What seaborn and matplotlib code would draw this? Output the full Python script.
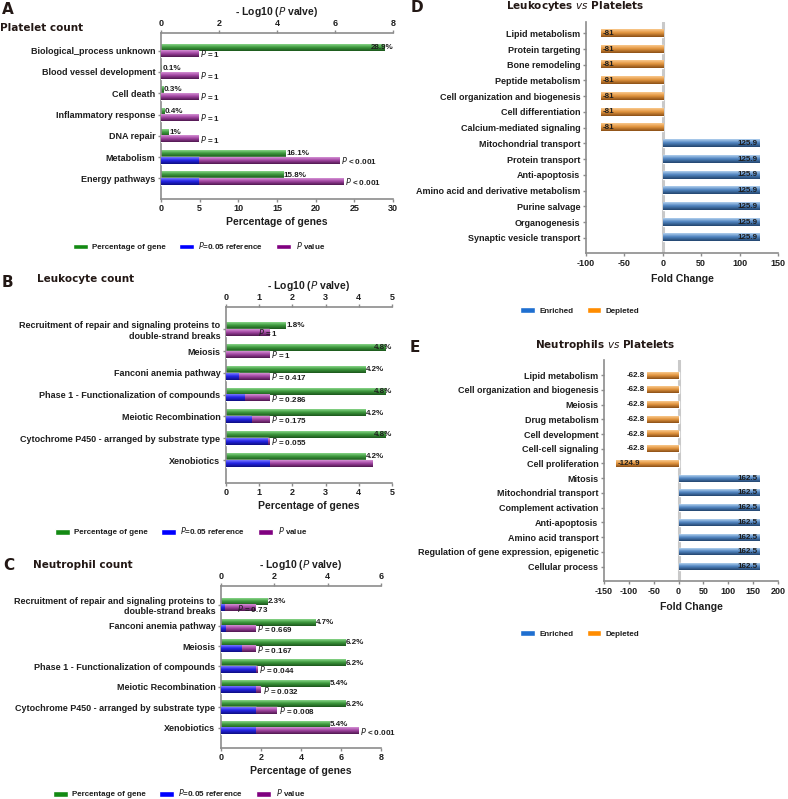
import numpy as np
import pandas as pd
import matplotlib
matplotlib.use("Agg")
import matplotlib.pyplot as plt
import seaborn as sns
from matplotlib.patches import Patch
from matplotlib.colors import LinearSegmentedColormap

# ---------------- data ----------------
a_cats = ["Biological_process unknown", "Blood vessel development", "Cell death",
          "Inflammatory response", "DNA repair", "Metabolism", "Energy pathways"]
a_pct = [28.9, 0.1, 0.3, 0.4, 1, 16.1, 15.8]
a_neglogp = [0, 0, 0, 0, 0, 6.15, 6.3]
a_plabels = ["= 1", "= 1", "= 1", "= 1", "= 1", "< 0.001", "< 0.001"]

b_cats = ["Recruitment of repair and signaling proteins to\ndouble-strand breaks", "Meiosis",
          "Fanconi anemia pathway", "Phase 1 - Functionalization of compounds",
          "Meiotic Recombination", "Cytochrome P450 - arranged by substrate type", "Xenobiotics"]
b_pct = [1.8, 4.8, 4.2, 4.8, 4.2, 4.8, 4.2]
b_neglogp = [0, 0, 0.38, 0.544, 0.757, 1.26, 4.4]
b_plabels = ["= 1", "= 1", "= 0.417", "= 0.286", "= 0.175", "= 0.055", ""]

c_cats = ["Recruitment of repair and signaling proteins to\ndouble-strand breaks", "Fanconi anemia pathway",
          "Meiosis", "Phase 1 - Functionalization of compounds", "Meiotic Recombination",
          "Cytochrome P450 - arranged by substrate type", "Xenobiotics"]
c_pct = [2.3, 4.7, 6.2, 6.2, 5.4, 6.2, 5.4]
c_neglogp = [0.137, 0.175, 0.777, 1.357, 1.495, 2.097, 5.15]
c_plabels = ["= 0.73", "= 0.669", "= 0.167", "= 0.044", "= 0.032", "= 0.008", "< 0.001"]

d_cats = ["Lipid metabolism", "Protein targeting", "Bone remodeling", "Peptide metabolism",
          "Cell organization and biogenesis", "Cell differentiation", "Calcium-mediated signaling",
          "Mitochondrial transport", "Protein transport", "Anti-apoptosis",
          "Amino acid and derivative metabolism", "Purine salvage", "Organogenesis",
          "Synaptic vesicle transport"]
d_fold = [-81, -81, -81, -81, -81, -81, -81, 125.9, 125.9, 125.9, 125.9, 125.9, 125.9, 125.9]

e_cats = ["Lipid metabolism", "Cell organization and biogenesis", "Meiosis", "Drug metabolism",
          "Cell development", "Cell-cell signaling", "Cell proliferation", "Mitosis",
          "Mitochondrial transport", "Complement activation", "Anti-apoptosis",
          "Amino acid transport", "Regulation of gene expression, epigenetic", "Cellular process"]
e_fold = [-62.8, -62.8, -62.8, -62.8, -62.8, -62.8, -124.9, 162.5, 162.5, 162.5, 162.5, 162.5, 162.5, 162.5]

P_REF = -np.log10(0.05)

# ---------------- style ----------------
sns.set_style("ticks")
plt.rcParams["font.family"] = ["Liberation Sans", "DejaVu Sans"]
plt.rcParams["font.weight"] = "bold"
plt.rcParams["axes.labelweight"] = "bold"
plt.rcParams["axes.unicode_minus"] = False
plt.rcParams["mathtext.fontset"] = "custom"
plt.rcParams["mathtext.rm"] = "DejaVu Sans:weight=normal"
plt.rcParams["mathtext.it"] = "DejaVu Sans:slant=italic:weight=normal"
plt.rcParams["mathtext.bf"] = "DejaVu Sans:weight=bold"

GREY = "#8c8c8c"
INK = "#1e1e1e"
SHADES = {
    "green": ["#8ad68a", "#3e9a3e", "#1b561b"],
    "blue": ["#7a7aff", "#2424e6", "#0e0e80"],
    "purple": ["#d592d5", "#a346a3", "#4e164e"],
    "orange": ["#f9c98e", "#e39640", "#8a4f16"],
    "steel": ["#b3d1ee", "#5286c2", "#22446d"],
}

fig = plt.figure(figsize=(7.88, 7.99), dpi=100)
FW, FH = 788.0, 799.0


def rect(x0, y0, x1, y1):
    return [x0 / FW, 1 - y1 / FH, (x1 - x0) / FW, (y1 - y0) / FH]


def shade(ax, patches, stops):
    cmap = LinearSegmentedColormap.from_list("s", [(0, stops[0]), (0.45, stops[1]), (1, stops[2])])
    grad = np.linspace(0, 1, 64).reshape(-1, 1)
    for p in patches:
        w, h = p.get_width(), p.get_height()
        if not np.isfinite(w) or w == 0:
            continue
        x0, y0 = p.get_x(), p.get_y()
        xl, xr = min(x0, x0 + w), max(x0, x0 + w)
        yt, yb = min(y0, y0 + h), max(y0, y0 + h)
        ax.imshow(grad, cmap=cmap, extent=(xl, xr, yb, yt), origin="upper",
                  aspect="auto", interpolation="bilinear", zorder=p.get_zorder() + 0.1)


def style_spines(ax, visible):
    for s in ["left", "right", "top", "bottom"]:
        ax.spines[s].set_visible(s in visible)
        ax.spines[s].set_color(GREY)
        ax.spines[s].set_linewidth(1.2)


def left_panel(box, cats, pct, neglog, plabels, pct_lim, pct_ticks, p_lim, p_ticks, ylim, first_shift):
    ax = fig.add_axes(rect(*box))
    ax2 = ax.twiny()
    tot = np.maximum(np.array(neglog, float), P_REF)
    ref = np.minimum(np.array(neglog, float), P_REF)
    df_g = pd.DataFrame({"cat": cats, "val": pct, "series": "gene"})
    df_t = pd.DataFrame({"cat": cats, "val": tot, "series": "p"})
    df_r = pd.DataFrame({"cat": cats, "val": ref, "series": "p"})
    kw = dict(x="val", y="cat", hue="series", hue_order=["gene", "p"], order=cats, orient="h",
              dodge=True, width=0.62, errorbar=None, legend=False, saturation=1)
    sns.barplot(data=df_g, palette={"gene": "#3e9a3e", "p": "#a346a3"}, ax=ax, **kw)
    sns.barplot(data=df_t, palette={"gene": "#3e9a3e", "p": "#a346a3"}, ax=ax2, **kw)
    n_tot = len(ax2.patches)
    sns.barplot(data=df_r, palette={"gene": "#3e9a3e", "p": "#2424e6"}, ax=ax2, **kw)
    green_patches = list(ax.patches)
    purple_patches = list(ax2.patches[:n_tot])
    blue_patches = list(ax2.patches[n_tot:])
    shade(ax, green_patches, SHADES["green"])
    shade(ax2, purple_patches, SHADES["purple"])
    shade(ax2, blue_patches, SHADES["blue"])

    for p in green_patches:
        if not np.isfinite(p.get_width()):
            continue
        yc = p.get_y() + p.get_height() / 2
        i = int(round(yc))
        v = pct[i]
        txt = f"{v:g}%"
        if v / pct_lim > 0.9:
            ax.annotate(txt, xy=(pct_lim, yc), xytext=(0.5, 0), textcoords="offset points",
                        ha="right", va="center", fontsize=5.8, color=INK, zorder=6)
        else:
            ax.annotate(txt, xy=(v, yc), xytext=(0.5, 0), textcoords="offset points",
                        ha="left", va="center", fontsize=5.8, color=INK, zorder=6)
    for p in purple_patches:
        if not np.isfinite(p.get_width()):
            continue
        yc = p.get_y() + p.get_height() / 2
        i = int(round(yc))
        if not plabels[i]:
            continue
        dx = 1.2 + (first_shift if i == 0 else 0)
        ax2.annotate(r"$\mathit{P}$ " + plabels[i], xy=(p.get_x() + p.get_width(), yc),
                     xytext=(dx, 0), textcoords="offset points", ha="left", va="center",
                     fontsize=5.8, color=INK, zorder=6)

    ax.set_xlim(0, pct_lim)
    ax.set_xticks(pct_ticks)
    ax2.set_xlim(0, p_lim)
    ax2.set_xticks(p_ticks)
    ax.set_ylim(*ylim)
    ax.set_yticks(range(len(cats)))
    ax.set_yticklabels(cats)
    ax.set_ylabel("")
    ax2.set_ylabel("")
    ax.set_xlabel("Percentage of genes", fontsize=7.5, labelpad=3, color=INK)
    ax2.set_xlabel(r"- Log10 ($\mathit{P}$ valve)", fontsize=7.5, labelpad=2.5, color=INK)
    style_spines(ax, ["left", "bottom"])
    style_spines(ax2, ["top"])
    ax.tick_params(axis="x", direction="out", length=2.5, width=1, color=GREY, labelsize=6.5,
                   pad=1.2, labelcolor=INK)
    ax.tick_params(axis="y", direction="out", length=2.5, width=1, color=GREY, labelsize=6.5,
                   pad=1.5, labelcolor=INK)
    ax2.tick_params(axis="x", direction="out", length=2.5, width=1, color=GREY, labelsize=6.5,
                    pad=1.2, labelcolor=INK)
    return ax


def right_panel(box, cats, vals, xlim, xticks, ylim):
    ax = fig.add_axes(rect(*box))
    dirs = ["Enriched" if v > 0 else "Depleted" for v in vals]
    df = pd.DataFrame({"cat": cats, "val": vals, "dir": dirs})
    ax.axvline(0, color="#c9c9c9", lw=2.2, zorder=0.5)
    sns.barplot(data=df, x="val", y="cat", hue="dir", hue_order=["Enriched", "Depleted"], order=cats,
                palette={"Enriched": "#5286c2", "Depleted": "#e39640"}, orient="h", dodge=False,
                width=0.47, saturation=1, errorbar=None, legend=False, ax=ax)
    pats = [p for p in ax.patches if np.isfinite(p.get_width()) and p.get_width() != 0]
    shade(ax, [p for p in pats if p.get_width() > 0], SHADES["steel"])
    shade(ax, [p for p in pats if p.get_width() < 0], SHADES["orange"])
    ax_w_px = box[2] - box[0]
    px_per_unit = ax_w_px / (xlim[1] - xlim[0])
    for p in pats:
        yc = p.get_y() + p.get_height() / 2
        i = int(round(yc))
        v = vals[i]
        txt = f"{v:g}"
        if v > 0:
            ax.annotate(txt, xy=(v, yc), xytext=(-1.2, 0), textcoords="offset points",
                        ha="right", va="center", fontsize=5.8, color=INK, zorder=6)
        else:
            space = (v - xlim[0]) * px_per_unit
            if space > 30:
                ax.annotate(txt, xy=(v, yc), xytext=(-1.5, 0), textcoords="offset points",
                            ha="right", va="center", fontsize=5.8, color=INK, zorder=6)
            else:
                ax.annotate(txt, xy=(v, yc), xytext=(1.2, 0), textcoords="offset points",
                            ha="left", va="center", fontsize=5.8, color=INK, zorder=6)
    ax.set_xlim(*xlim)
    ax.set_xticks(xticks)
    ax.set_ylim(*ylim)
    ax.set_yticks(range(len(cats)))
    ax.set_yticklabels(cats)
    ax.set_ylabel("")
    ax.set_xlabel("Fold Change", fontsize=7.5, labelpad=4, color=INK)
    style_spines(ax, ["left", "bottom"])
    ax.tick_params(axis="x", direction="out", length=2.5, width=1, color=GREY, labelsize=6.5,
                   pad=2, labelcolor=INK)
    ax.tick_params(axis="y", direction="out", length=2.5, width=1, color=GREY, labelsize=6.5,
                   pad=1.5, labelcolor=INK)
    return ax


left_panel((161, 33, 393, 199), a_cats, a_pct, a_neglogp, a_plabels, 30, [0, 5, 10, 15, 20, 25, 30],
           8, [0, 2, 4, 6, 8], (6.97, -0.83), 0)
left_panel((226, 307, 392, 483), b_cats, b_pct, b_neglogp, b_plabels, 5, [0, 1, 2, 3, 4, 5],
           5, [0, 1, 2, 3, 4, 5], (7.05, -1.02), -9)
left_panel((221, 586, 381, 748), c_cats, c_pct, c_neglogp, c_plabels, 8, [0, 2, 4, 6, 8],
           6, [0, 2, 4, 6], (6.98, -0.93), -15)
right_panel((586, 22, 778, 253), d_cats, d_fold, (-100, 150), [-100, -50, 0, 50, 100, 150], (13.97, -0.72))
right_panel((604, 360, 778, 581), e_cats, e_fold, (-150, 200), [-150, -100, -50, 0, 50, 100, 150, 200],
            (13.97, -1.02))

# ---------------- panel letters & titles ----------------
def ftext(x, y, s, size, **kw):
    fig.text(x / FW, 1 - y / FH, s, fontsize=size, fontfamily="DejaVu Sans", fontweight="bold",
             color="#231815", va="center", **kw)

ftext(2, 10, "A", 11)
ftext(2, 282, "B", 11)
ftext(3, 566, "C", 11)
ftext(411, 8, "D", 11)
ftext(410, 347, "E", 11)
ftext(0, 28, "Platelet count", 7.5)
ftext(37, 279, "Leukocyte count", 7.5)
ftext(33, 565, "Neutrophil count", 7.5)
ftext(575, 6, r"Leukocytes $\mathit{vs}$ Platelets", 7.5, ha="center")
ftext(605, 345, r"Neutrophils $\mathit{vs}$ Platelets", 7.5, ha="center")

# ---------------- legends ----------------
left_handles = [Patch(facecolor="#138a13"), Patch(facecolor="#0000ff"), Patch(facecolor="#800080")]
left_labels = ["Percentage of gene", r"$\mathit{P}$=0.05 reference", r"$\mathit{P}$ value"]
right_handles = [Patch(facecolor="#1f6fd0"), Patch(facecolor="#ff8c00")]
right_labels = ["Enriched", "Depleted"]
leg_kw = dict(loc="center", frameon=False, fontsize=5.8, handlelength=1.8, handleheight=0.7,
              handletextpad=0.6, columnspacing=1.6, borderpad=0, labelcolor=INK)
for cx, cy in [(199, 246), (181, 531), (179, 793)]:
    fig.legend(left_handles, left_labels, ncol=3, bbox_to_anchor=(cx / FW, 1 - cy / FH), **leg_kw)
for cx, cy in [(580, 311), (580, 634)]:
    fig.legend(right_handles, right_labels, ncol=2, bbox_to_anchor=(cx / FW, 1 - cy / FH), **leg_kw)

fig.savefig("out.png", dpi=100)
